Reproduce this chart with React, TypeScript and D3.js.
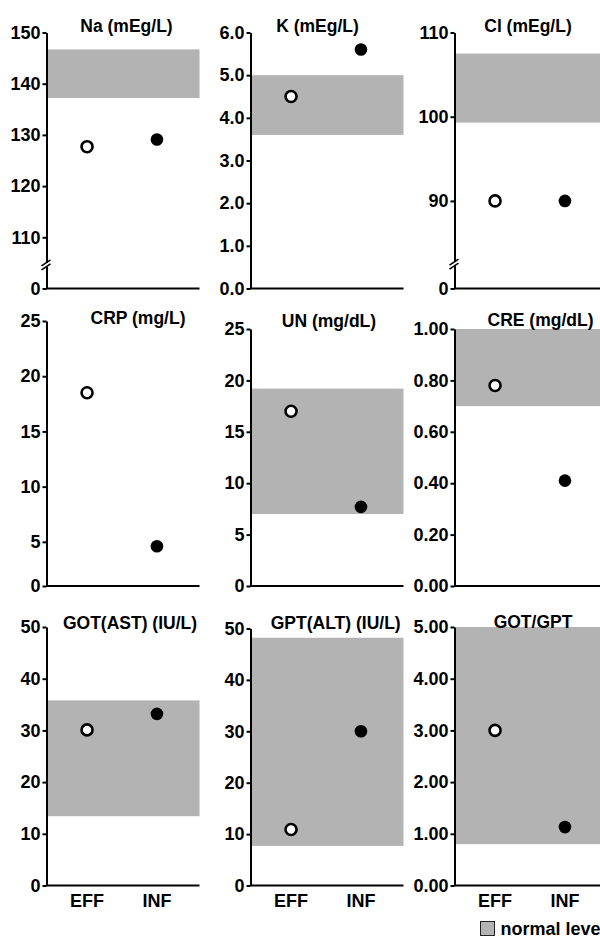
import { useEffect, useRef } from "react";
import * as d3 from "d3";

// one entry per panel, row by row
const titles = [
  "Na (mEg/L)",
  "K (mEg/L)",
  "Cl (mEg/L)",
  "CRP (mg/L)",
  "UN (mg/dL)",
  "CRE (mg/dL)",
  "GOT(AST) (IU/L)",
  "GPT(ALT) (IU/L)",
  "GOT/GPT"
];
const groups = ["EFF", "INF"];
const effValues = [127.7, 4.5, 90, 18.5, 17.0, 0.78, 30.1, 10.9, 3.0];
const infValues = [129.1, 5.6, 90, 4.6, 7.7, 0.41, 33.2, 30.0, 1.13];
const normalLow = [137.2, 3.6, 99.3, null, 7.0, 0.7, 13.4, 7.7, 0.8];
const normalHigh = [146.7, 5.0, 107.5, null, 19.2, 1.0, 35.8, 48.2, 5.0];
// axis bottom value (Na and Cl axes are broken, the bottom is labelled 0)
const yMin = [100, 0, 79.6, 1, 0, 0, 0, 0, 0];
const yMax = [150, 6, 110, 25, 25, 1, 50, 50, 5];
const breakAt = [104.6, null, 82.5, null, null, null, null, null, null];
const tickValues = [
  [100, 110, 120, 130, 140, 150],
  [0, 1, 2, 3, 4, 5, 6],
  [79.6, 90, 100, 110],
  [1, 5, 10, 15, 20, 25],
  [0, 5, 10, 15, 20, 25],
  [0, 0.2, 0.4, 0.6, 0.8, 1.0],
  [0, 10, 20, 30, 40, 50],
  [0, 10, 20, 30, 40, 50],
  [0, 1, 2, 3, 4, 5]
];
const tickLabels = [
  ["0", "110", "120", "130", "140", "150"],
  ["0.0", "1.0", "2.0", "3.0", "4.0", "5.0", "6.0"],
  ["0", "90", "100", "110"],
  ["0", "5", "10", "15", "20", "25"],
  ["0", "5", "10", "15", "20", "25"],
  ["0.00", "0.20", "0.40", "0.60", "0.80", "1.00"],
  ["0", "10", "20", "30", "40", "50"],
  ["0", "10", "20", "30", "40", "50"],
  ["0.00", "1.00", "2.00", "3.00", "4.00", "5.00"]
];
const legendLabel = "normal level";

// layout
const colX = [46.5, 250.5, 454.5];
const rowBottom = [288.5, 586, 885.5];
const panelTop = [32.5, 32.5, 32.5, 321, 329, 329, 627, 628.5, 627];
const titleX = [126.5, 317.5, 528, 138, 329, 540.5, 130, 335.7, 533];
const titleY = [32, 32, 32, 324, 326.5, 326, 628.5, 628.5, 628];
const panelW = 153;
const FONT = "'Liberation Sans', Arial, sans-serif";
const BAND = "#b3b3b3";

export default function App() {
  const svgRef = useRef<SVGSVGElement | null>(null);

  useEffect(() => {
    if (!svgRef.current) return;
    const svg = d3.select(svgRef.current);
    svg.selectAll("*").remove();

    const x = d3.scalePoint().domain(groups).range([0, 151]).padding(0.58);

    titles.forEach((title, i) => {
      const col = i % 3;
      const row = Math.floor(i / 3);
      const top = panelTop[i];
      const bottom = rowBottom[row];
      const y = d3.scaleLinear().domain([yMin[i], yMax[i]]).range([bottom - top, 0]);

      const g = svg.append("g").attr("transform", `translate(${colX[col]},${top})`);

      const lo = normalLow[i];
      const hi = normalHigh[i];
      if (lo != null && hi != null) {
        g.append("rect")
          .attr("x", 0)
          .attr("width", panelW)
          .attr("y", y(hi))
          .attr("height", y(lo) - y(hi))
          .attr("fill", BAND);
      }

      g.append("g")
        .call(
          d3
            .axisLeft(y)
            .tickValues(tickValues[i])
            .tickFormat((_, k) => tickLabels[i][k])
            .tickSizeInner(4)
            .tickSizeOuter(0)
            .tickPadding(2)
        )
        .call((a) => a.select(".domain").attr("stroke", "#000").attr("stroke-width", 2))
        .call((a) => a.selectAll(".tick line").attr("stroke", "#000").attr("stroke-width", 2))
        .call((a) =>
          a
            .selectAll("text")
            .attr("fill", "#000")
            .attr("font-family", FONT)
            .attr("font-weight", "bold")
            .attr("font-size", 18)
        );

      // baseline
      g.append("line")
        .attr("x1", -0.5)
        .attr("x2", panelW)
        .attr("y1", y(yMin[i]))
        .attr("y2", y(yMin[i]))
        .attr("stroke", "#000")
        .attr("stroke-width", 2);

      const b = breakAt[i];
      if (b != null) {
        const by = y(b);
        g.append("rect")
          .attr("x", -3)
          .attr("y", by - 2)
          .attr("width", 5)
          .attr("height", 4)
          .attr("fill", "#fff");
        [-2, 2].forEach((d) => {
          g.append("line")
            .attr("x1", -5)
            .attr("y1", by + d + 3)
            .attr("x2", 4)
            .attr("y2", by + d - 3)
            .attr("stroke", "#000")
            .attr("stroke-width", 1.6);
        });
      }

      g.append("circle")
        .attr("cx", x("EFF") ?? 0)
        .attr("cy", y(effValues[i]))
        .attr("r", 5.5)
        .attr("fill", "#fff")
        .attr("stroke", "#000")
        .attr("stroke-width", 2.6);

      g.append("circle")
        .attr("cx", x("INF") ?? 0)
        .attr("cy", y(infValues[i]))
        .attr("r", 6.3)
        .attr("fill", "#000");

      svg
        .append("text")
        .attr("x", titleX[i])
        .attr("y", titleY[i])
        .attr("text-anchor", "middle")
        .attr("font-family", FONT)
        .attr("font-weight", "bold")
        .attr("font-size", 17.5)
        .text(title);

      if (row === 2) {
        g.selectAll("text.grp")
          .data(groups)
          .enter()
          .append("text")
          .attr("class", "grp")
          .attr("x", (d) => x(d) ?? 0)
          .attr("y", bottom - top + 21)
          .attr("text-anchor", "middle")
          .attr("font-family", FONT)
          .attr("font-weight", "bold")
          .attr("font-size", 18)
          .text((d) => d);
      }
    });

    const legend = svg.append("g").attr("transform", "translate(480,921)");
    legend
      .append("rect")
      .attr("x", 0.5)
      .attr("y", 0.5)
      .attr("width", 14)
      .attr("height", 14)
      .attr("fill", BAND)
      .attr("stroke", "#222")
      .attr("stroke-width", 1);
    legend
      .append("text")
      .attr("x", 20.5)
      .attr("y", 14)
      .attr("font-family", FONT)
      .attr("font-weight", "bold")
      .attr("font-size", 18)
      .text(legendLabel);
  }, []);

  return (
    <div style={{ position: "fixed", left: 0, top: 0 }}>
      <svg ref={svgRef} width={600} height={937} style={{ display: "block", background: "#fff" }} />
    </div>
  );
}
